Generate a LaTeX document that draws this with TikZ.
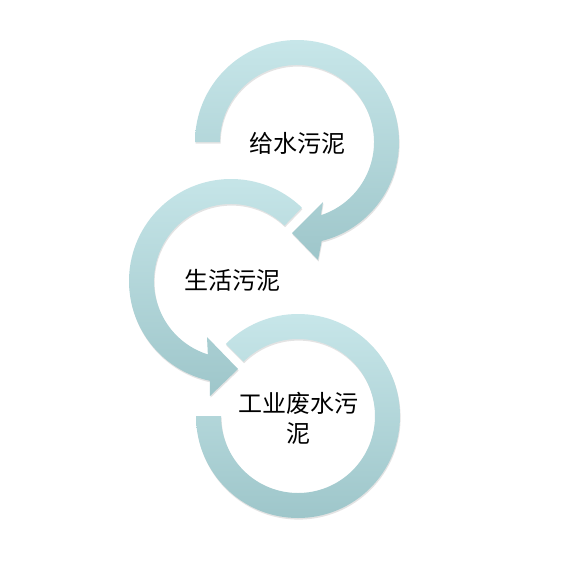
\documentclass[tikz,border=0pt]{standalone}
\usepackage{fontspec}
\newfontfamily\cjk{Noto Sans CJK SC}
\usetikzlibrary{shadows,calc}
\definecolor{ringtop}{RGB}{199,230,233}
\definecolor{ringbot}{RGB}{158,198,202}
\tikzset{
  ring/.style={top color=ringtop, bottom color=ringbot, draw=none,
    drop shadow={opacity=0.22, shadow xshift=0.6pt, shadow yshift=-1.6pt}},
  ringlabel/.style={font=\cjk\fontsize{24}{30}\selectfont, align=center, text=black, inner sep=0pt}
}
\begin{document}
\begin{tikzpicture}[x=1pt,y=-1pt]
\fill[white] (0,0) rectangle (586,562);
\useasboundingbox (0,0) rectangle (586,562);
\coordinate (c1) at (297,142);
\coordinate (c2) at (231,281);
\coordinate (c3) at (298,416);
% ring 1: clockwise arrow
\path[ring] ($(c1)+(180:102)$) arc[start angle=180, end angle=436, radius=102]
  -- (318,260) -- (292,233) -- (323,202)
  -- ($(c1)+(72:77)$) arc[start angle=432, end angle=180, radius=77] -- cycle;
% ring 2: counter-clockwise arrow
\path[ring] ($(c2)+(-46:102)$) arc[start angle=-46, end angle=-258, radius=102]
  -- (210,396) -- (238,369) -- (207,337)
  -- ($(c2)+(-252.5:77)$) arc[start angle=-252.5, end angle=-46, radius=77] -- cycle;
% ring 3: open ring
\path[ring] ($(c3)+(180:102)$) arc[start angle=180, end angle=-135, radius=102]
  -- ($(c3)+(-135:77)$) arc[start angle=-135, end angle=180, radius=77] -- cycle;
\node[ringlabel] (t1) at (297,143) {给水污泥};
\node[ringlabel] (t2) at (232,280) {生活污泥};
\node[ringlabel] (t3) at (298,418) {工业废水污\\泥};
\end{tikzpicture}
\end{document}
